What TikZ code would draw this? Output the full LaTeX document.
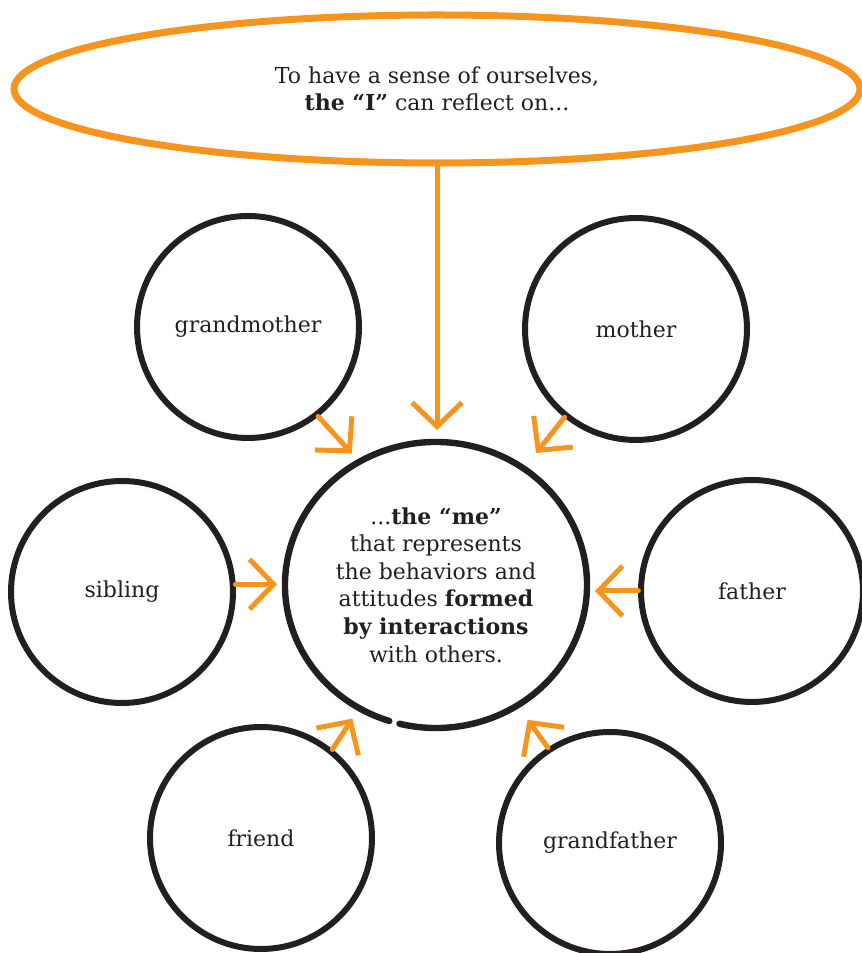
\documentclass[tikz,border=0pt]{standalone}
\usepackage{fontspec}
\setmainfont{DejaVu Serif}
\usetikzlibrary{arrows.meta,shapes.geometric}
\definecolor{orng}{HTML}{F7941D}
\definecolor{ink}{HTML}{231F20}
\begin{document}
\begin{tikzpicture}[x=0.75pt,y=0.75pt,
  txt/.style={font=\fontsize{16.5}{20.7}\selectfont, text=ink, align=center},
  pal/.style={circle, draw=ink, line width=4.5pt, minimum size=166.5pt, inner sep=0pt, outer sep=0pt, txt},
  ring/.style={draw=ink, line width=4.8pt, line cap=round},
  arr/.style={draw=orng, line width=3.75pt, line cap=round, -{Straight Barb[length=18pt,width=37.5pt]}},
]
\useasboundingbox (0,0) rectangle (861,953);

% top ellipse ("I")
\node[ellipse, draw=orng, line width=5.25pt, minimum width=634.5pt, minimum height=111pt,
      inner sep=0pt, outer sep=0pt, txt] (ego) at (437,864)
  {To have a sense of ourselves,\\\textbf{the “I”} can reflect on...};

% centre ("me")
\node[circle, minimum size=220.5pt, inner sep=0pt, outer sep=0pt, txt] (me) at (436,368)
  {...\textbf{the “me”}\\that represents\\the behaviors and\\attitudes \textbf{formed}\\\textbf{by interactions}\\with others.};
\draw[ring] (me.center) ++(256:151 and 143) arc[start angle=256, end angle=612, x radius=151, y radius=143];

% others
\node[pal] (gm) at (248,626) {grandmother};
\node[pal] (mo) at (636,624) {mother};
\node[pal] (sib) at (122,361) {sibling};
\node[pal] (fa) at (752,362) {father};
\node[pal] (fr) at (261,115) {friend};
\node[pal] (gf) at (610,110) {grandfather};

% arrows
\draw[arr, shorten >=6pt] (ego.south) -- (ego.south |- me.north);
\draw[arr, shorten >=7pt, shorten <=2pt] (gm.-52) -- (me.122);
\draw[arr, shorten >=14pt, shorten <=2pt] (mo.231) -- (me.53);
\draw[arr, shorten >=9pt, shorten <=2pt] (sib.4) -- (sib.4 -| me.west);
\draw[arr, shorten >=9pt, shorten <=2pt] (fa.west) -- (fa.west -| me.east);
\draw[arr, shorten >=8pt, shorten <=2pt] (fr.51) -- (me.238);
\draw[arr, shorten >=12pt, shorten <=2pt] (gf.123) -- (me.304);
\end{tikzpicture}
\end{document}
